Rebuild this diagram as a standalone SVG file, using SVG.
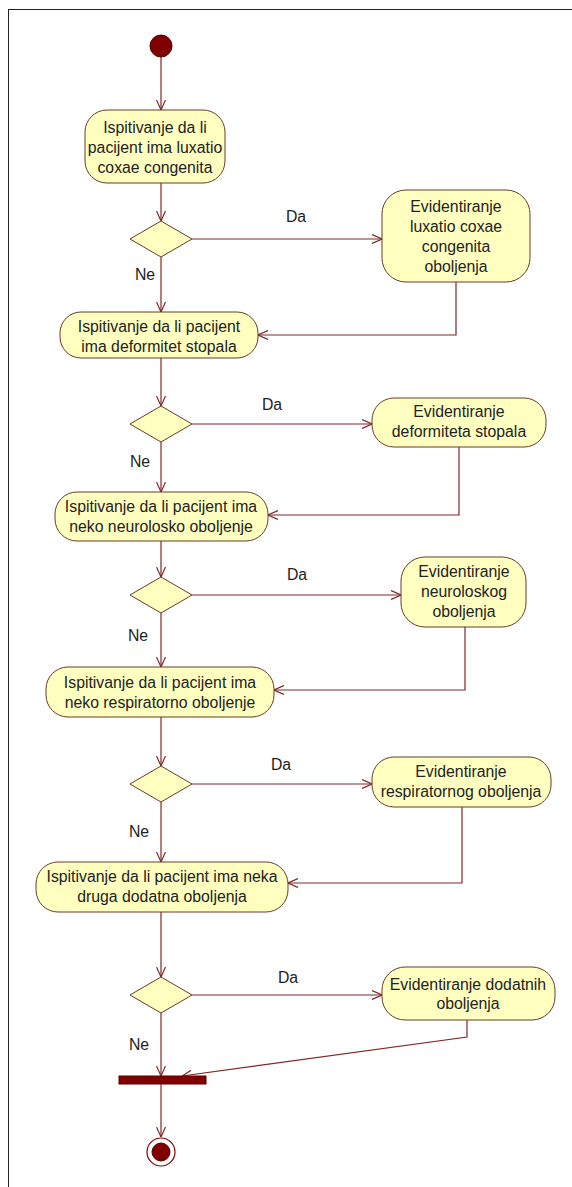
<svg xmlns="http://www.w3.org/2000/svg" width="572" height="1187" viewBox="0 0 572 1187">
<defs>
<marker id="arr" viewBox="0 0 10 10" refX="10" refY="5" markerWidth="10" markerHeight="10" markerUnits="userSpaceOnUse" orient="auto">
<path d="M0,0.5 L10,5 L0,9.5" fill="none" stroke="#802828" stroke-width="1.2"/>
</marker>
</defs>
<style>
.act{fill:#FFFFC0;stroke:#6a3a2a;stroke-width:1}
.dec{fill:#FFFFC0;stroke:#6a3a2a;stroke-width:1}
.t{font-family:"Liberation Sans",Arial,sans-serif;font-size:15.8px;fill:#222;text-anchor:middle}
.lbl{font-family:"Liberation Sans",Arial,sans-serif;font-size:15.8px;fill:#222;text-anchor:middle}
.c{fill:none;stroke:#802828;stroke-width:1.2}
.ca{fill:none;stroke:#802828;stroke-width:1.2;marker-end:url(#arr)}
.solid{fill:#800000;stroke:#600000}
</style>
<rect x="0" y="0" width="572" height="1187" fill="#ffffff"/>
<rect x="8.5" y="9.5" width="600" height="1200" fill="none" stroke="#222" stroke-width="1"/>

<g id="connectors">
<path class="ca" d="M161,57 L161,110"/>
<path class="ca" d="M161,183 L161,221"/>
<path class="ca" d="M161,257 L161,312"/>
<path class="ca" d="M192,239 L382,239"/>
<path class="ca" d="M456,282 L456,335 L258,335"/>
<path class="ca" d="M161,358 L161,406"/>
<path class="ca" d="M161,442 L161,492"/>
<path class="ca" d="M192,424 L372,424"/>
<path class="ca" d="M459,447 L459,515 L268,515"/>
<path class="ca" d="M161,541 L161,577"/>
<path class="ca" d="M161,613 L161,667"/>
<path class="ca" d="M192,595 L401,595"/>
<path class="ca" d="M465,627 L465,690 L274,690"/>
<path class="ca" d="M161,717 L161,766"/>
<path class="ca" d="M161,802 L161,862"/>
<path class="ca" d="M192,784 L372,784"/>
<path class="ca" d="M462,807 L462,883 L288,883"/>
<path class="ca" d="M161,912 L161,977"/>
<path class="ca" d="M161,1013 L161,1076"/>
<path class="ca" d="M192,995 L382,995"/>
<path class="ca" d="M467,1020 L467,1037 L182,1076"/>
<path class="ca" d="M161,1084 L161,1137"/>
<text class="lbl" x="296" y="222">Da</text>
<text class="lbl" x="145" y="280">Ne</text>
<text class="lbl" x="272" y="410">Da</text>
<text class="lbl" x="140" y="467">Ne</text>
<text class="lbl" x="297" y="580">Da</text>
<text class="lbl" x="138" y="641">Ne</text>
<text class="lbl" x="281" y="770">Da</text>
<text class="lbl" x="139" y="837">Ne</text>
<text class="lbl" x="288" y="983">Da</text>
<text class="lbl" x="139" y="1050">Ne</text>
</g>

<g id="start"><circle class="solid" cx="161" cy="46" r="11"/></g>

<g id="a1">
<rect class="act" x="85" y="110" width="140" height="73" rx="22" ry="22"/>
<text class="t" x="155" y="133">Ispitivanje da li</text>
<text class="t" x="155" y="153">pacijent ima luxatio</text>
<text class="t" x="155" y="173">coxae congenita</text>
</g>
<g id="d1"><polygon class="dec" points="161,221 192,239 161,257 130,239"/></g>
<g id="r1">
<rect class="act" x="382" y="190" width="148" height="92" rx="24" ry="24"/>
<text class="t" x="456" y="212">Evidentiranje</text>
<text class="t" x="456" y="232">luxatio coxae</text>
<text class="t" x="456" y="252">congenita</text>
<text class="t" x="456" y="272">oboljenja</text>
</g>

<g id="a2">
<rect class="act" x="60" y="312" width="198" height="46" rx="21" ry="21"/>
<text class="t" x="159" y="332">Ispitivanje da li pacijent</text>
<text class="t" x="159" y="352">ima deformitet stopala</text>
</g>
<g id="d2"><polygon class="dec" points="161,406 192,424 161,442 130,424"/></g>
<g id="r2">
<rect class="act" x="372" y="398" width="174" height="49" rx="22" ry="22"/>
<text class="t" x="459" y="417">Evidentiranje</text>
<text class="t" x="459" y="437">deformiteta stopala</text>
</g>

<g id="a3">
<rect class="act" x="55" y="492" width="213" height="49" rx="22" ry="22"/>
<text class="t" x="161" y="512">Ispitivanje da li pacijent ima</text>
<text class="t" x="161" y="532">neko neurolosko oboljenje</text>
</g>
<g id="d3"><polygon class="dec" points="161,577 192,595 161,613 130,595"/></g>
<g id="r3">
<rect class="act" x="401" y="557" width="125" height="70" rx="24" ry="24"/>
<text class="t" x="464" y="577">Evidentiranje</text>
<text class="t" x="464" y="597">neuroloskog</text>
<text class="t" x="464" y="617">oboljenja</text>
</g>

<g id="a4">
<rect class="act" x="46" y="667" width="228" height="50" rx="22" ry="22"/>
<text class="t" x="160" y="688">Ispitivanje da li pacijent ima</text>
<text class="t" x="160" y="708">neko respiratorno oboljenje</text>
</g>
<g id="d4"><polygon class="dec" points="161,766 192,784 161,802 130,784"/></g>
<g id="r4">
<rect class="act" x="372" y="757" width="179" height="50" rx="22" ry="22"/>
<text class="t" x="461" y="777">Evidentiranje</text>
<text class="t" x="461" y="797">respiratornog oboljenja</text>
</g>

<g id="a5">
<rect class="act" x="36" y="862" width="252" height="50" rx="22" ry="22"/>
<text class="t" x="162" y="882">Ispitivanje da li pacijent ima neka</text>
<text class="t" x="162" y="902">druga dodatna oboljenja</text>
</g>
<g id="d5"><polygon class="dec" points="161,977 192,995 161,1013 130,995"/></g>
<g id="r5">
<rect class="act" x="382" y="967" width="173" height="53" rx="23" ry="23"/>
<text class="t" x="468" y="990">Evidentiranje dodatnih</text>
<text class="t" x="468" y="1009">oboljenja</text>
</g>

<g id="join"><rect class="solid" x="119" y="1076" width="87" height="8"/></g>
<g id="end">
<circle cx="161" cy="1152" r="14" fill="#fff" stroke="#800000" stroke-width="1.2"/>
<circle class="solid" cx="161" cy="1152" r="9"/>
</g>
</svg>
